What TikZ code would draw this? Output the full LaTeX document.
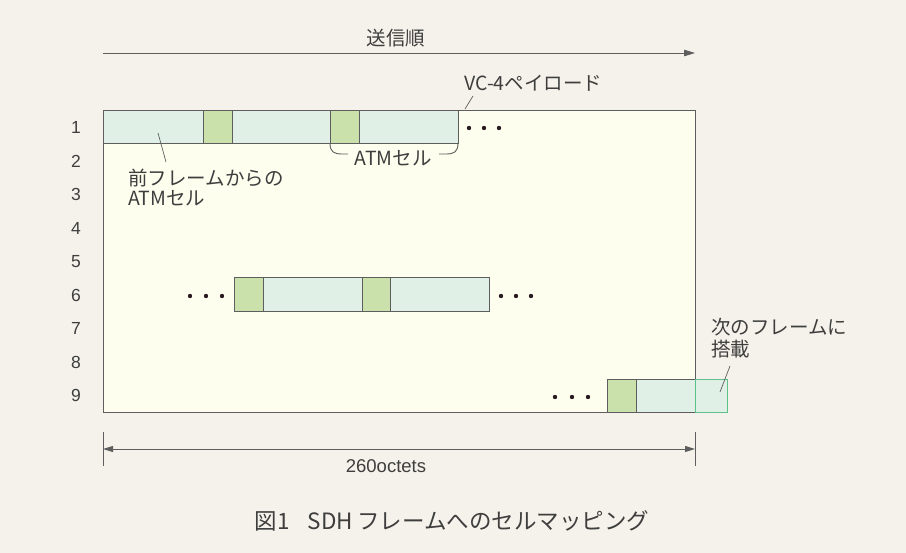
\documentclass[tikz,border=0pt]{standalone}
\usepackage{fontspec}
\setmainfont{Noto Sans CJK JP}
\newfontfamily\latinf{Liberation Sans}
\usetikzlibrary{arrows.meta}
\definecolor{bgc}{HTML}{F4F2EA}
\definecolor{framefill}{HTML}{FEFEEE}
\definecolor{bandfill}{HTML}{E1F0E6}
\definecolor{cellgreen}{HTML}{CBE1AC}
\definecolor{linec}{HTML}{5E5E5E}
\definecolor{txtc}{HTML}{3E3E3E}
\definecolor{overc}{HTML}{5CC08A}
\definecolor{dotc}{HTML}{2A1A22}
\begin{document}
\begin{tikzpicture}[x=1pt,y=-1pt,
  ln/.style={draw=linec,line width=0.9pt},
  jl/.style={text=txtc,font=\fontsize{19.5}{20.5}\selectfont,inner sep=1pt},
  numlbl/.style={text=txtc,font=\latinf\fontsize{17.5}{19}\selectfont,inner sep=1pt},
  latlbl/.style={text=txtc,font=\latinf\fontsize{18.5}{20}\selectfont,inner sep=1pt},
  captext/.style={text=txtc,font=\fontsize{22.5}{25}\selectfont,inner sep=1pt},
  arrowtip/.style={-{Triangle[length=11pt,width=6.5pt]}},
  dimtips/.style={{Triangle[length=10pt,width=6pt]}-{Triangle[length=10pt,width=6pt]}}]
\useasboundingbox (0,0) rectangle (906,553);
\fill[bgc] (0,0) rectangle (906,553);

% top arrow
\node[jl,font=\fontsize{19.5}{22}\selectfont] (send) at (396,38) {送信順};
\coordinate (sa) at (103,53);
\coordinate (sb) at (695,53);
\draw[ln,arrowtip] (sa) -- (sb);

% frame
\filldraw[ln,fill=framefill] (103,110) rectangle (695,412);

% row labels
\foreach \i in {1,...,9}
  \node[numlbl] (r\i) at (76,{127.5+(\i-1)*33.5}) {\i};

% row 1 band
\fill[bandfill] (103,110) rectangle (458,143);
\fill[cellgreen] (203,110) rectangle (232,143);
\fill[cellgreen] (330,110) rectangle (359,143);
\draw[ln] (103,110) rectangle (458,143);
\foreach \x in {203,232,330,359} \draw[ln] (\x,110) -- (\x,143);
\foreach \x in {469,484,499} \fill[dotc] (\x,128) circle (2.2);

% ATM cell brace
\node[jl] (atm) at (393,158) {ATMセル};
\coordinate (bl) at (348,154);
\coordinate (br) at (439,154);
\draw[ln] (330,143) .. controls (330,152) and (334,154) .. (342,154) -- (bl);
\draw[ln] (458,143) .. controls (458,152) and (454,154) .. (446,154) -- (br);

% VC-4 payload label
\node[jl,anchor=west] (vc) at (463,83) {VC-4ペイロード};
\coordinate (vcp) at (465,109);
\coordinate (vce) at (473,96);
\draw[ln,line width=0.7pt] (vcp) -- (vce);

% previous frame label
\node[jl,anchor=west,align=left] (prev) at (127,187.5) {前フレームからの\\ATMセル};
\coordinate (pvp) at (158,133);
\coordinate (pve) at (166,162);
\draw[ln,line width=0.7pt] (pvp) -- (pve);

% row 6 band
\fill[bandfill] (234,277) rectangle (489,311);
\fill[cellgreen] (234,277) rectangle (263,311);
\fill[cellgreen] (362,277) rectangle (390,311);
\draw[ln] (234,277) rectangle (489,311);
\foreach \x in {263,362,390} \draw[ln] (\x,277) -- (\x,311);
\foreach \x in {190,206,222} \fill[dotc] (\x,296) circle (2.2);
\foreach \x in {501,516,531} \fill[dotc] (\x,296) circle (2.2);

% row 9 band
\fill[bandfill] (607,379) rectangle (727,412);
\fill[cellgreen] (607,379) rectangle (636,412);
\draw[ln] (695,379) -- (607,379) -- (607,412) -- (695,412);
\draw[ln] (636,379) -- (636,412);
\draw[draw=overc,line width=0.9pt] (695,379) -- (727,379) -- (727,412) -- (695,412) -- cycle;
\foreach \x in {555,572,588} \fill[dotc] (\x,397) circle (2.2);

% next frame label
\node[jl,anchor=west,align=left,font=\fontsize{19.5}{22}\selectfont] (next) at (710,338) {次のフレームに\\搭載};
\coordinate (nxp) at (730,366);
\coordinate (nxe) at (720,392);
\draw[ln,line width=0.7pt] (nxp) -- (nxe);

% dimension
\coordinate (d0) at (103,432); \coordinate (d1) at (103,466);
\coordinate (d2) at (695,432); \coordinate (d3) at (695,466);
\draw[ln] (d0) -- (d1);
\draw[ln] (d2) -- (d3);
\coordinate (da) at (103,449); \coordinate (db) at (695,449);
\draw[ln,dimtips] (da) -- (db);
\node[latlbl] (oct) at (386,466) {260octets};

% caption
\node[captext] (caption) at (452,521) {図1\hspace{0.8em}SDH\hspace{0.2em}フレームへのセルマッピング};
\end{tikzpicture}
\end{document}
